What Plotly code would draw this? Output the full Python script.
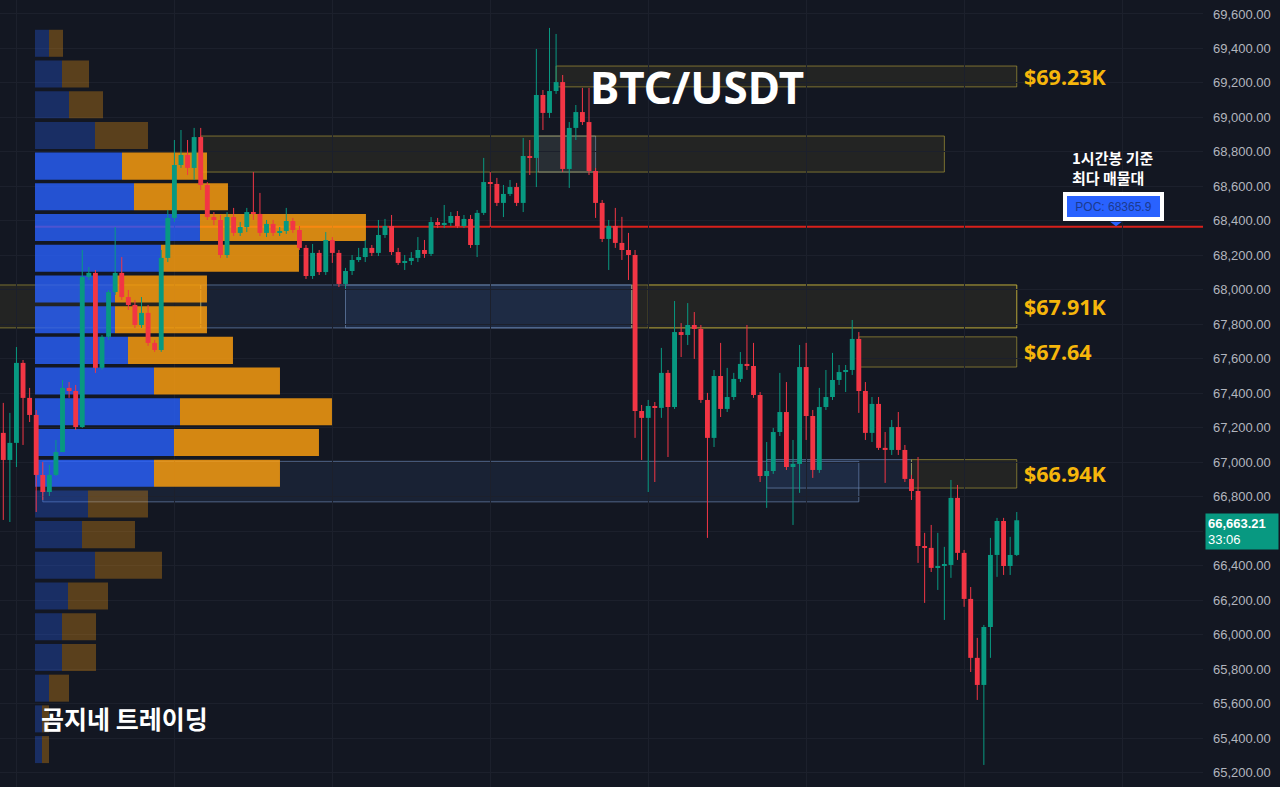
import plotly.graph_objects as go

# ---------------- data (BTC/USDT, 1h candles) ----------------
opens = [67170, 67013, 67112, 67576, 67373, 67274, 66926, 66827, 66926, 67059,
         67431, 67413, 67204, 68074, 68098, 67547, 67727, 67987, 68098, 67958,
         67912, 67796, 67866, 67692, 67651, 68185, 68417, 68724, 68782, 68707,
         68886, 68608, 68422, 68405, 68202, 68422, 68330, 68364, 68451, 68440,
         68330, 68382, 68330, 68341, 68399, 68347, 68243, 68080, 68214, 68103,
         68289, 68214, 68034, 68109, 68173, 68190, 68243, 68214, 68318, 68370,
         68219, 68156, 68167, 68185, 68231, 68208, 68393, 68376, 68388, 68428,
         68370, 68411, 68260, 68446, 68625, 68614, 68504, 68556, 68596, 68504,
         68776, 68765, 69130, 69026, 69153, 69205, 68701, 68939, 69031, 68973,
         68689, 68504, 68295, 68370, 68272, 68231, 68202, 67297, 67257, 67326,
         67315, 67518, 67320, 67755, 67738, 67796, 67773, 67361, 67141, 67500,
         67309, 67378, 67483, 67570, 67558, 67390, 66920, 66949, 67175, 67291,
         66972, 66990, 67552, 67268, 66955, 67320, 67378, 67477, 67523, 67535,
         67715, 67413, 67170, 67338, 67083, 67071, 67204, 67071, 66903, 66833,
         66514, 66503, 66387, 66398, 66404, 66793, 66474, 66207, 65865, 65708,
         66044, 66462, 66659, 66398, 66462]
highs = [67344, 67286, 67668, 67593, 67431, 67303, 67001, 66984, 67129, 67477,
         67465, 67448, 68231, 68132, 68115, 67738, 67999, 68364, 68190, 67999,
         67941, 67958, 67912, 67709, 68231, 68463, 68869, 68927, 68869, 68939,
         68939, 68625, 68451, 68434, 68451, 68475, 68393, 68475, 68683, 68562,
         68405, 68405, 68364, 68475, 68417, 68370, 68260, 68266, 68231, 68335,
         68306, 68231, 68127, 68202, 68243, 68289, 68260, 68405, 68411, 68434,
         68243, 68202, 68219, 68306, 68289, 68422, 68417, 68492, 68451, 68457,
         68434, 68434, 68463, 68765, 68683, 68649, 68608, 68637, 68620, 68881,
         68869, 69397, 69159, 69519, 69484, 69246, 68973, 69072, 69171, 69171,
         68707, 68521, 68405, 68475, 68423, 68330, 68231, 67332, 67361, 67349,
         67663, 67535, 67935, 67807, 67923, 67871, 67796, 67402, 67535, 67692,
         67547, 67518, 67639, 67796, 67692, 67407, 67117, 67199, 67518, 67465,
         67129, 67680, 67692, 67303, 67431, 67535, 67634, 67564, 67564, 67825,
         67755, 67465, 67378, 67378, 67175, 67245, 67291, 67100, 66926, 67030,
         66590, 66636, 66590, 66509, 66897, 66868, 66491, 66276, 65981, 66056,
         66561, 66677, 66677, 66567, 66711]
lows = [66665, 66653, 66972, 67100, 67233, 66711, 66781, 66804, 66920, 67059,
        67373, 67187, 67199, 68057, 67518, 67535, 67709, 67970, 67941, 67883,
        67779, 67779, 67675, 67640, 67640, 68161, 68394, 68707, 68666, 68637,
        68579, 68405, 68376, 68185, 68185, 68312, 68312, 68335, 68405, 68312,
        68306, 68312, 68312, 68324, 68330, 68231, 68063, 68063, 68086, 68086,
        68156, 68016, 68011, 68086, 68161, 68161, 68196, 68196, 68301, 68202,
        68144, 68115, 68144, 68161, 68185, 68196, 68358, 68358, 68370, 68358,
        68358, 68243, 68190, 68434, 68364, 68486, 68422, 68544, 68486, 68451,
        68666, 68596, 68927, 68997, 69136, 68683, 68591, 68869, 68956, 68666,
        68417, 68277, 68115, 68243, 68173, 68057, 67141, 67013, 66827, 66885,
        67257, 67030, 67309, 67610, 67680, 67599, 67344, 66561, 67088, 67262,
        67291, 67361, 67465, 67535, 67373, 66885, 66735, 66932, 67152, 66955,
        66636, 66822, 67129, 66909, 66938, 67303, 67361, 67448, 67407, 67506,
        67286, 67129, 67117, 67071, 66880, 67042, 67042, 66885, 66781, 66416,
        66184, 66363, 66259, 66085, 66329, 66433, 66161, 65783, 65621, 65244,
        65865, 66335, 66346, 66346, 66456]
closes = [67013, 67112, 67576, 67373, 67274, 66926, 66827, 66926, 67059, 67431,
          67413, 67204, 68074, 68098, 67547, 67727, 67987, 68098, 67958, 67912,
          67796, 67866, 67692, 67651, 68185, 68417, 68724, 68782, 68707, 68886,
          68608, 68422, 68405, 68202, 68422, 68330, 68364, 68451, 68440, 68330,
          68382, 68330, 68341, 68399, 68347, 68243, 68080, 68214, 68103, 68289,
          68214, 68034, 68109, 68173, 68190, 68243, 68214, 68318, 68370, 68219,
          68156, 68167, 68185, 68231, 68208, 68393, 68376, 68388, 68428, 68370,
          68411, 68260, 68446, 68625, 68614, 68504, 68556, 68596, 68504, 68776,
          68765, 69130, 69026, 69153, 69205, 68701, 68939, 69031, 68973, 68689,
          68504, 68295, 68370, 68272, 68231, 68202, 67297, 67257, 67326, 67315,
          67518, 67320, 67755, 67738, 67796, 67773, 67361, 67141, 67500, 67309,
          67378, 67483, 67570, 67558, 67390, 66920, 66949, 67175, 67291, 66972,
          66990, 67552, 67268, 66955, 67320, 67378, 67477, 67523, 67535, 67715,
          67413, 67170, 67338, 67083, 67071, 67204, 67071, 66903, 66833, 66514,
          66503, 66387, 66398, 66404, 66793, 66474, 66207, 65865, 65708, 66044,
          66462, 66659, 66398, 66462, 66663.21]

# volume profile: 24 price rows from the top (high) to the bottom (low)
profile_buy = [140, 270, 340, 600, 870, 990, 1650, 1260, 800, 800, 930, 1190,
               1450, 1390, 1190, 530, 470, 600, 330, 270, 270, 140, 70, 70]
profile_sell = [140, 270, 340, 530, 850, 940, 1660, 1380, 920, 920, 1050, 1260,
                1520, 1450, 1260, 600, 530, 670, 400, 340, 340, 200, 70, 70]
value_area_first, value_area_last = 4, 14
poc_price = 68365.9

# supply / demand zones (candle index range, price range)
yz_label = ["$69.23K", "", "", "$67.91K", "", "$67.64", "$66.94K"]
yz_start = [84, 30, -5, 95.5, 98, 130, 138]
yz_end = [154, 143, 30, 154, 154, 154, 154]
yz_top = [69298, 68892, 68028, 68028, 68028, 67727, 67015]
yz_bottom = [69177, 68683, 67779, 67779, 67779, 67552, 66850]
yz_fill = [1, 1, 1, 1, 0, 1, 1]

bz_start = [81.3, 30, 52, 6, 116]
bz_end = [90, 95.5, 95.5, 130, 138]
bz_top = [68892, 68028, 68028, 67005, 67015]
bz_bottom = [68683, 67779, 67779, 66770, 66850]

y_ticks = list(range(65200, 69601, 200))
hidden_ticks = [66600]          # covered by the last-price label
last_price_text = "66,663.21"
countdown_text = "33:06"

# ---------------- styling ----------------
BG = "#131722"
GREEN = "#089981"
RED = "#F23645"
X_MIN, X_MAX = -0.5, 182.3
Y_MIN, Y_MAX = 65116, 69681
PLOT_W, PLOT_H = 1203, 787
span = X_MAX - X_MIN
px_per_price = PLOT_H / (Y_MAX - Y_MIN)

fig = go.Figure()

# ---- volume profile ----
hi, lo = max(highs), min(lows)
nrows = len(profile_buy)
step = (hi - lo) / nrows
centers = [hi - (k + 0.5) * step for k in range(nrows)]
prof_left = X_MIN + 0.0291 * span
prof_scale = 0.2751 * span / max(b + s for b, s in zip(profile_buy, profile_sell))

in_va = [value_area_first <= k <= value_area_last for k in range(nrows)]
blue_cols = ["rgba(41,98,255,0.80)" if v else "rgba(41,98,255,0.30)" for v in in_va]
orange_cols = ["rgba(255,160,15,0.82)" if v else "rgba(255,160,15,0.30)" for v in in_va]

fig.add_trace(go.Bar(
    orientation="h", y=centers, x=[b * prof_scale for b in profile_buy],
    base=[prof_left] * nrows, width=step * 0.88,
    marker=dict(color=blue_cols, line=dict(width=0)), hoverinfo="skip"))
fig.add_trace(go.Bar(
    orientation="h", y=centers, x=[s * prof_scale for s in profile_sell],
    base=[prof_left + b * prof_scale for b in profile_buy], width=step * 0.88,
    marker=dict(color=orange_cols, line=dict(width=0)), hoverinfo="skip"))

# ---- candles ----
idx = list(range(len(opens)))
for up, col in ((True, GREEN), (False, RED)):
    wx, wy, bx, bb, bh = [], [], [], [], []
    for i, o, h, l, c in zip(idx, opens, highs, lows, closes):
        if (c >= o) != up:
            continue
        wx += [i, i, None]
        wy += [l, h, None]
        bx.append(i)
        bb.append(min(o, c))
        bh.append(max(abs(c - o), 6))
    fig.add_trace(go.Scatter(x=wx, y=wy, mode="lines", line=dict(color=col, width=1),
                             hoverinfo="skip", connectgaps=False))
    fig.add_trace(go.Bar(x=bx, y=bh, base=bb, width=0.74,
                         marker=dict(color=col, line=dict(width=0)), hoverinfo="skip"))

shapes = []
annotations = []

# ---- zones ----
for s, e, t, b in zip(bz_start, bz_end, bz_top, bz_bottom):
    shapes.append(dict(type="rect", xref="x", yref="y", x0=s, x1=e, y0=b, y1=t,
                       fillcolor="rgba(70,110,180,0.13)",
                       line=dict(color="rgba(110,140,185,0.65)", width=1), layer="below"))
for lab, s, e, t, b, f in zip(yz_label, yz_start, yz_end, yz_top, yz_bottom, yz_fill):
    shapes.append(dict(type="rect", xref="x", yref="y", x0=s, x1=e, y0=b, y1=t,
                       fillcolor="rgba(200,180,60,0.09)" if f else "rgba(0,0,0,0)",
                       line=dict(color="rgba(200,180,60,0.55)", width=1), layer="below"))
    if lab:
        annotations.append(dict(x=e + 0.8, y=(t + b) / 2, xref="x", yref="y",
                                text="<b>%s</b>" % lab, showarrow=False, xanchor="left",
                                yanchor="middle",
                                font=dict(family="Noto Sans", size=21.5, color="#F6B60B")))

# ---- POC line ----
shapes.append(dict(type="line", xref="x", yref="y", x0=prof_left, x1=X_MAX,
                   y0=poc_price, y1=poc_price, line=dict(color="#D9201B", width=2),
                   layer="below"))

# POC label + pointer
annotations.append(dict(x=1113.5 / PLOT_W, y=poc_price, xref="paper", yref="y",
                        text="POC: %.1f" % poc_price, showarrow=False,
                        xanchor="center", yanchor="bottom", yshift=6,
                        bgcolor="#2962FF", bordercolor="#FFFFFF", borderwidth=4,
                        borderpad=2, width=89, height=17,
                        font=dict(family="Liberation Sans", size=12, color="#1B3A8F")))
tri_top = poc_price + 5 / px_per_price
tri_bot = poc_price + 0.5 / px_per_price
shapes.append(dict(type="path", xref="paper", yref="y",
                   path="M %f,%f L %f,%f L %f,%f Z" % (1110 / PLOT_W, tri_top,
                                                       1122 / PLOT_W, tri_top,
                                                       1116 / PLOT_W, tri_bot),
                   fillcolor="#2962FF", line=dict(width=0), layer="above"))

# note text
annotations.append(dict(x=1070 / PLOT_W, y=1 - 167 / PLOT_H, xref="paper", yref="paper",
                        text="<b>1시간봉 기준<br>최다 매물대</b>", showarrow=False,
                        xanchor="left", yanchor="middle", align="left",
                        font=dict(family="Noto Sans CJK KR", size=15, color="#FFFFFF")))

# title and watermark
annotations.append(dict(x=697 / PLOT_W, y=1 - 87.5 / PLOT_H, xref="paper", yref="paper",
                        text="<b>BTC/USDT</b>", showarrow=False, xanchor="center",
                        yanchor="middle",
                        font=dict(family="Noto Sans", size=44, color="#FFFFFF")))
annotations.append(dict(x=124 / PLOT_W, y=1 - 718 / PLOT_H, xref="paper", yref="paper",
                        text="<b>곰지네 트레이딩</b>", showarrow=False, xanchor="center",
                        yanchor="middle",
                        font=dict(family="Noto Sans CJK KR", size=25, color="#FFFFFF")))

# last price label
annotations.append(dict(x=1, y=closes[-1], xref="paper", yref="y", xshift=2, yshift=7,
                        text="<b>%s</b><br>%s" % (last_price_text, countdown_text),
                        showarrow=False, xanchor="left", yanchor="top", align="left",
                        bgcolor=GREEN, borderpad=2, width=68, height=31,
                        font=dict(family="Liberation Sans", size=13, color="#FFFFFF")))

fig.update_layout(
    width=1280, height=787,
    margin=dict(l=0, r=1280 - PLOT_W, t=0, b=0),
    paper_bgcolor=BG, plot_bgcolor=BG,
    barmode="overlay", showlegend=False, hovermode=False,
    shapes=shapes, annotations=annotations,
    xaxis=dict(range=[X_MIN, X_MAX], showticklabels=False, showgrid=True,
               gridcolor="#1c202c", gridwidth=1, tick0=2, dtick=24, zeroline=False,
               showline=False, fixedrange=True),
    yaxis=dict(range=[Y_MIN, Y_MAX], side="right", tickmode="array", tickvals=y_ticks,
               ticktext=["" if v in hidden_ticks else "{:,.2f}".format(v) for v in y_ticks],
               showgrid=True,
               gridcolor="#1c202c", gridwidth=1, zeroline=False, showline=False,
               ticks="", ticklabelstandoff=9,
               tickfont=dict(family="Liberation Sans", size=13, color="#B2B5BE"),
               fixedrange=True),
)

fig.write_html("out.html", config={"displayModeBar": False})

# remove the default page margin so the chart fills the window exactly
with open("out.html", "r", encoding="utf-8") as fh:
    html = fh.read()
html = html.replace("<head>", "<head><style>html,body{margin:0;padding:0;background:%s;overflow:hidden;}</style>" % BG, 1)
with open("out.html", "w", encoding="utf-8") as fh:
    fh.write(html)
